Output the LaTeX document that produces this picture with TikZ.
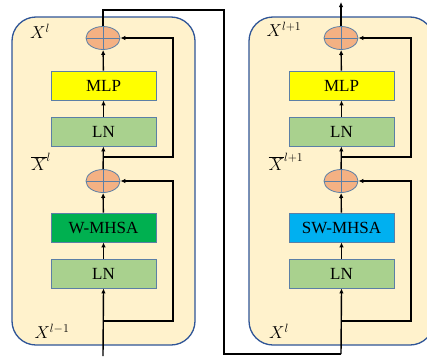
\documentclass[tikz,border=0pt]{standalone}
\usepackage{fontspec}
\setmainfont{Liberation Serif}
\usepackage{tikz}
\usetikzlibrary{arrows.meta,positioning,shapes.geometric}

\definecolor{panelfill}{HTML}{FFF2CC}
\definecolor{paneledge}{HTML}{2F5597}
\definecolor{boxedge}{HTML}{5B7FA6}
\definecolor{addfill}{HTML}{F4B183}
\definecolor{mlpfill}{HTML}{FFFF00}
\definecolor{lnfill}{HTML}{A9D18E}
\definecolor{wfill}{HTML}{00B050}
\definecolor{swfill}{HTML}{00B0F0}

\begin{document}
\begin{tikzpicture}[x=1pt, y=-1pt,
  panel/.style={draw=paneledge, line width=1.3pt, fill=panelfill, rounded corners=24pt},
  block/.style={draw=boxedge, line width=0.8pt, minimum width=105pt, minimum height=29pt, inner sep=0pt, font=\fontsize{17}{19}\selectfont},
  adder/.style={ellipse, draw=boxedge, line width=0.8pt, fill=addfill, minimum width=34pt, minimum height=23pt, inner sep=0pt,
    path picture={\draw[boxedge, line width=0.8pt] (path picture bounding box.north) -- (path picture bounding box.south)
      (path picture bounding box.west) -- (path picture bounding box.east);}},
  lbl/.style={font=\fontsize{17}{19}\selectfont, inner sep=1pt},
  line/.style={-{Latex[length=5pt,width=4.5pt]}, line width=1.4pt},
  wire/.style={line width=1.4pt}
]
\useasboundingbox (0,0) rectangle (427,356);
\begin{scope}
\clip (0,0) rectangle (427,356);
% panels
\draw[panel] (12,17) rectangle (195,345);
\draw[panel] (249,17) rectangle (434,345);
\end{scope}

% left block
\node[adder] (addL2) at (103,38) {};
\node[block, fill=mlpfill] (mlpL) at (103.5,85.5) {MLP};
\node[block, fill=lnfill] (lnL2) at (103.5,131.5) {LN};
\node[adder] (addL1) at (103,181) {};
\node[block, fill=wfill] (attnL) at (103.5,227.5) {W-MHSA};
\node[block, fill=lnfill] (lnL1) at (103.5,273.5) {LN};

\node[lbl] (xl) at (40,31) {$X^{l}$};
\node[lbl] (xbarl) at (41,162) {$\overline{X}^{l}$};
\node[lbl] (xlm) at (52,331) {$X^{l-1}$};

% right block
\node[adder] (addR2) at (341,38) {};
\node[block, fill=mlpfill] (mlpR) at (341.5,85.5) {MLP};
\node[block, fill=lnfill] (lnR2) at (341.5,131.5) {LN};
\node[adder] (addR1) at (341,181) {};
\node[block, fill=swfill] (attnR) at (341.5,227.5) {SW-MHSA};
\node[block, fill=lnfill] (lnR1) at (341.5,273.5) {LN};

\node[lbl] (xlp) at (284,29) {$X^{l+1}$};
\node[lbl] (xbarlp) at (286,162) {$\overline{X}^{l+1}$};
\node[lbl] (xlr) at (279,331) {$X^{l}$};

% coordinates
\coordinate (inL) at (103,356);
\coordinate (brL1) at (103,321);
\coordinate (brL2) at (103,157);
\coordinate (skL1) at (173,321);
\coordinate (skL2) at (173,157);
\coordinate (brR1) at (341,321);
\coordinate (brR2) at (341,157);
\coordinate (skR1) at (411,321);
\coordinate (skR2) at (411,157);
\coordinate (upL) at (103,10);
\coordinate (upM) at (224,10);
\coordinate (dnM) at (224,354);
\coordinate (dnR) at (341,354);
\coordinate (outR) at (341,2);

% left flow
\draw[line] (inL) -- (lnL1.south);
\draw[line] (lnL1) -- (attnL);
\draw[line] (attnL) -- (addL1);
\draw[line] (addL1) -- (lnL2);
\draw[line] (lnL2) -- (mlpL);
\draw[line] (mlpL) -- (addL2);
\draw[line] (brL1) -- (skL1) |- (addL1.east);
\draw[line] (brL2) -- (skL2) |- (addL2.east);

% link between blocks
\draw[wire] (addL2.north) -- (upL) -- (upM) -- (dnM) -- (dnR);
\draw[line] (dnR) -- (lnR1.south);

% right flow
\draw[line] (lnR1) -- (attnR);
\draw[line] (attnR) -- (addR1);
\draw[line] (addR1) -- (lnR2);
\draw[line] (lnR2) -- (mlpR);
\draw[line] (mlpR) -- (addR2);
\draw[line] (brR1) -- (skR1) |- (addR1.east);
\draw[line] (brR2) -- (skR2) |- (addR2.east);
\draw[line] (addR2.north) -- (outR);
\end{tikzpicture}
\end{document}
